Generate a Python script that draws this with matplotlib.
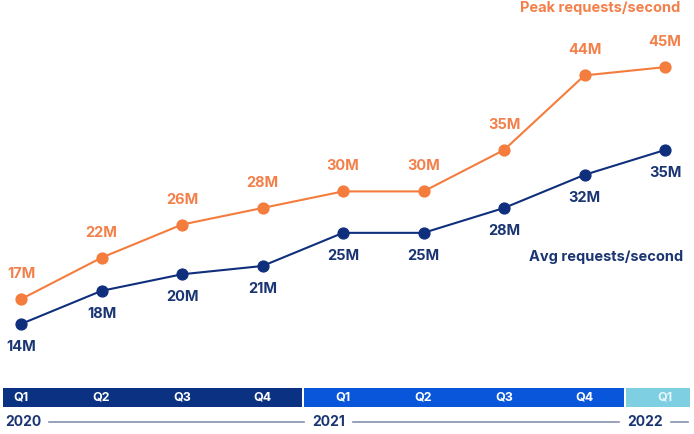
import matplotlib
matplotlib.use("Agg")
import matplotlib.pyplot as plt
import matplotlib.transforms as mtransforms
from matplotlib.patches import Rectangle

quarters = ["Q1", "Q2", "Q3", "Q4", "Q1", "Q2", "Q3", "Q4", "Q1"]
years = ["2020", "2021", "2022"]
year_quarters = [4, 4, 1]
peak = [17, 22, 26, 28, 30, 30, 35, 44, 45]
avg = [14, 18, 20, 21, 25, 25, 28, 32, 35]
peak_labels = [f"{v}M" for v in peak]
avg_labels = [f"{v}M" for v in avg]

ORANGE = "#f47c3c"
ORANGE_TXT = "#f3804a"
NAVY = "#0f2f7d"
NAVY_TXT = "#1a3572"
band_colors = ["#0b3282", "#0a56da", "#7ecfe2"]
band_text = ["white", "white", "#e8f7fb"]
LINE_GREY = "#8591ae"

plt.rcParams['font.family'] = ['Inter', 'DejaVu Sans']
FS = 10.5

fig = plt.figure(figsize=(6.94, 4.34), dpi=100)
ax = fig.add_axes([0, 0, 1, 1])
ax.set_xlim(-0.261, 8.36)
ax.set_ylim(0.724, 53.1)
ax.axis("off")

x = list(range(len(peak)))
ax.plot(x, peak, color=ORANGE, lw=1.5, marker="o", ms=7.8, zorder=3)
ax.plot(x, avg, color=NAVY, lw=1.5, marker="o", ms=7.8, zorder=3)

for xi, v, lab in zip(x, peak, peak_labels):
    ax.annotate(lab, (xi, v), xytext=(0, 18), textcoords="offset points",
                ha="center", va="center", color=ORANGE_TXT, fontsize=FS,
                fontweight="bold")
for xi, v, lab in zip(x, avg, avg_labels):
    ax.annotate(lab, (xi, v), xytext=(0, -16.5), textcoords="offset points",
                ha="center", va="center", color=NAVY_TXT, fontsize=FS,
                fontweight="bold")

ax.text(0.98, 0.982, "Peak requests/second", transform=ax.transAxes,
        ha="right", va="center", color=ORANGE_TXT, fontsize=FS, fontweight="bold")
ax.text(0.984, 0.408, "Avg requests/second", transform=ax.transAxes,
        ha="right", va="center", color=NAVY_TXT, fontsize=FS, fontweight="bold")

trans = mtransforms.blended_transform_factory(ax.transData, ax.transAxes)
band_bottom, band_top = 0.062, 0.106
year_y = 0.028
start = 0
left_pad, right_pad, gap = 0.224, 0.31, 0.012
year_text_off = [0.025, 0.1, 0.015]
n = len(quarters)
year_texts = []
band_ends = []
for yi, (yr, nq) in enumerate(zip(years, year_quarters)):
    x0 = start - left_pad if start == 0 else start - 0.5 + gap
    end = start + nq - 1
    x1 = end + right_pad if end == n - 1 else end + 0.5 - gap
    band_ends.append(x1)
    ax.add_patch(Rectangle((x0, band_bottom), x1 - x0, band_top - band_bottom,
                           transform=trans, color=band_colors[yi], lw=0, zorder=2))
    for q in range(start, start + nq):
        ax.text(q, 0.083, quarters[q], transform=trans, ha="center", va="center",
                color=band_text[yi], fontsize=9, fontweight="bold")
    t = ax.text(x0 + year_text_off[yi], year_y, yr, transform=trans, ha="left",
                va="center", color=NAVY_TXT, fontsize=10, fontweight="bold")
    year_texts.append(t)
    start += nq

fig.canvas.draw()
r = fig.canvas.get_renderer()
inv = ax.transData.inverted()
for i, t in enumerate(year_texts):
    bb = t.get_window_extent(renderer=r)
    ls = inv.transform((bb.x1 + 8, 0))[0]
    if i + 1 < len(year_texts):
        nb = year_texts[i + 1].get_window_extent(renderer=r)
        le = inv.transform((nb.x0 - 8, 0))[0]
    else:
        le = band_ends[i] - 0.03
    ax.plot([ls, le], [year_y, year_y], transform=trans, color=LINE_GREY, lw=1.2)

fig.savefig("out.png", dpi=100)
